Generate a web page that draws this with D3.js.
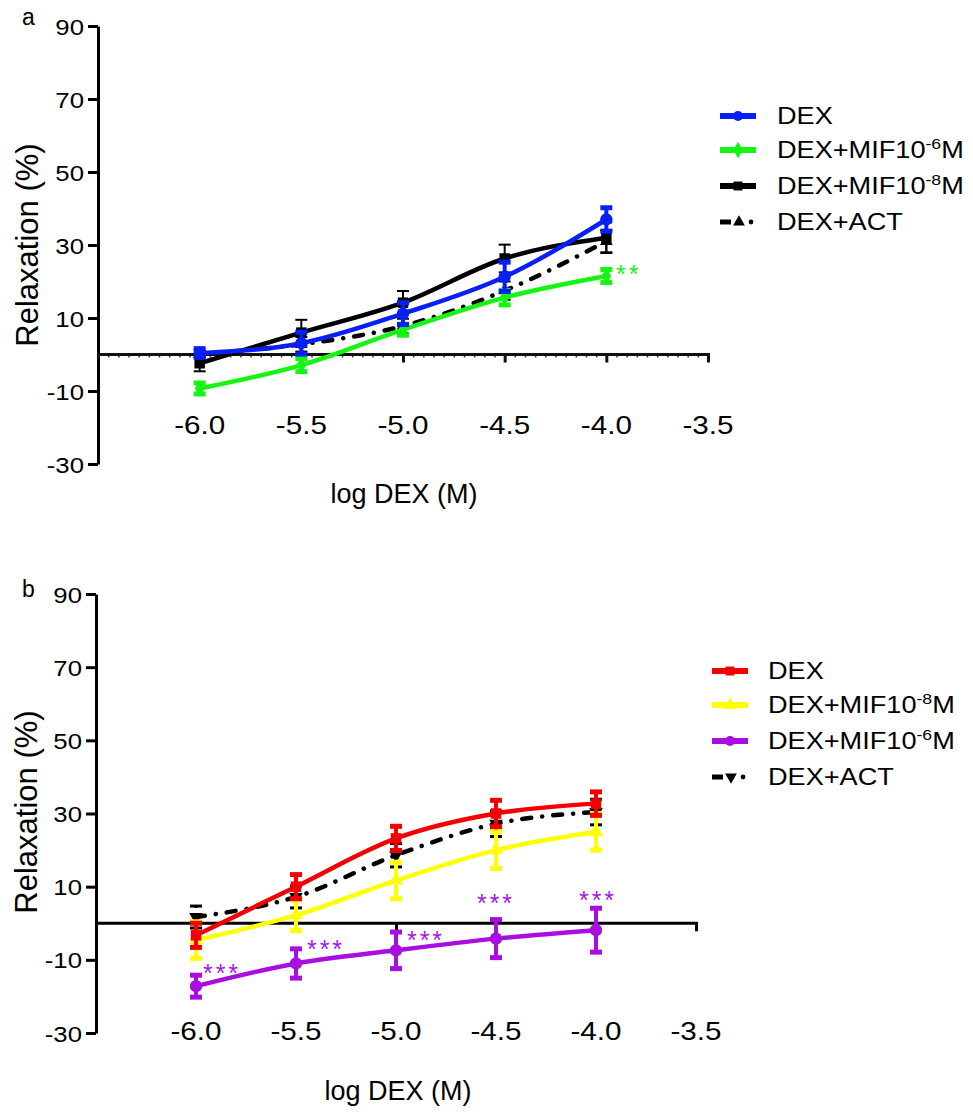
<!DOCTYPE html>
<html><head><meta charset="utf-8">
<script src="https://cdn.jsdelivr.net/npm/d3@7"></script>
<style>
body{margin:0;background:#fff}
text{font-family:"Liberation Sans",Arial,Helvetica,sans-serif;fill:#000}
</style>
</head><body>
<svg id="chart" width="973" height="1115"></svg>
<script>
// ---------- data ----------
const doses = [-6.0, -5.5, -5.0, -4.5, -4.0];
const xTickValues = [-6.0, -5.5, -5.0, -4.5, -4.0, -3.5];
const yTickValues = [90, 70, 50, 30, 10, -10, -30];

// panel a
const aDexMean  = [0.4, 3.1, 11.2, 21.3, 37.0];
const aDexSem   = [1.2, 3.0, 3.0, 4.0, 3.2];
const aMif6Mean = [-9.3, -2.9, 6.8, 15.6, 21.5];
const aMif6Sem  = [1.5, 1.8, 1.5, 2.0, 1.8];
const aMif8Mean = [-2.4, 6.0, 14.2, 26.3, 32.0];
const aMif8Sem  = [2.2, 3.5, 3.2, 3.8, 4.2];
const aActMean  = [0.2, 2.8, 7.8, 17.5, 31.0];
const aActSem   = [1.0, 2.0, 2.0, 2.5, 3.0];
const aLabels   = ["DEX", "DEX+MIF10|-6|M", "DEX+MIF10|-8|M", "DEX+ACT"];

// panel b
const bDexMean  = [-3.3, 10.0, 23.2, 30.0, 32.7];
const bDexSem   = [3.3, 3.3, 3.3, 3.6, 3.2];
const bMif8Mean = [-4.6, 2.2, 11.7, 20.0, 25.0];
const bMif8Sem  = [5.0, 4.2, 5.0, 5.0, 5.0];
const bMif6Mean = [-17.2, -11.0, -7.4, -4.2, -1.9];
const bMif6Sem  = [3.0, 4.0, 5.0, 5.2, 6.0];
const bActMean  = [1.7, 7.2, 18.6, 27.2, 30.4];
const bActSem   = [3.0, 3.0, 3.2, 3.5, 3.5];
const bLabels   = ["DEX", "DEX+MIF10|-8|M", "DEX+MIF10|-6|M", "DEX+ACT"];

// significance annotations (dose, value where the mark sits, text)
const aStarDose = [-3.89];
const aStarValue = [23.4];
const aStarText = ["**"];
const bStarDose = [-5.87, -5.35, -4.85, -4.5, -3.99];
const bStarValue = [-12.3, -5.6, -3.2, 6.8, 7.7];
const bStarText = ["***", "***", "***", "***", "***"];

// ---------- drawing ----------
const svg = d3.select("#chart");

function sText(g, x, y, str, size, sx, anchor, color) {
  return g.append("text")
    .attr("transform", `translate(${x},${y}) scale(${sx},1)`)
    .attr("text-anchor", anchor || "start")
    .style("font-size", size + "px")
    .style("fill", color || "#000")
    .text(str);
}

function symbolPath(type, size) {
  const map = {circle: d3.symbolCircle, square: d3.symbolSquare, triangle: d3.symbolTriangle,
               triangleDown: d3.symbolTriangle, diamond: d3.symbolDiamond};
  return d3.symbol().type(map[type]).size(size)();
}

function drawPanel(cfg) {
  const g = svg.append("g");
  const x = d3.scaleLinear().domain([-6.5, -3.5]).range(cfg.xRange);
  const y = d3.scaleLinear().domain([-30, 90]).range(cfg.yRange);

  // y axis
  const yAx = g.append("g").attr("transform", `translate(${cfg.xRange[0]},0)`)
    .call(d3.axisLeft(y).tickValues(yTickValues).tickSize(10).tickSizeOuter(0).tickFormat(""));
  yAx.selectAll("path,line").attr("stroke", "#000").attr("stroke-width", 3);
  yTickValues.forEach(v => sText(g, cfg.xRange[0] - 14, y(v) + 8.5, String(v), 23, 1.12, "end"));

  // x axis at zero
  if (cfg.minor) {
    const xm = g.append("g").attr("transform", `translate(0,${y(0)})`)
      .call(d3.axisBottom(x).tickValues(x.ticks(60)).tickSize(3).tickSizeOuter(0).tickFormat(""));
    xm.select("path").remove();
    xm.selectAll("line").attr("stroke", "#333").attr("stroke-width", 1.5);
  }
  const xAx = g.append("g").attr("transform", `translate(0,${y(0)})`)
    .call(d3.axisBottom(x).tickValues(xTickValues).tickSize(8).tickSizeOuter(0).tickFormat(""));
  xAx.select("path").attr("d", `M${cfg.xRange[0]},0H${cfg.xRange[1] + 2}`);
  xAx.selectAll("path,line").attr("stroke", cfg.minor ? "#111" : "#000").attr("stroke-width", 3);
  xTickValues.forEach(v => sText(g, x(v), cfg.xLabelY, v.toFixed(1), 26, 1.14, "middle"));

  // titles
  g.append("text").attr("transform", `translate(${cfg.yTitleX},${cfg.yTitleY}) rotate(-90)`)
    .attr("text-anchor", "middle").style("font-size", "31px").text("Relaxation (%)");
  g.append("text").attr("x", cfg.xTitleX).attr("y", cfg.xTitleY)
    .attr("text-anchor", "middle").style("font-size", "27px").text("log DEX (M)");
  g.append("text").attr("x", cfg.letterX).attr("y", cfg.letterY)
    .style("font-size", "23px").text(cfg.letter);

  // series
  const line = d3.line().x(d => x(d[0])).y(d => y(d[1])).curve(d3.curveMonotoneX);
  cfg.series.forEach(s => {
    const pts = doses.map((d, i) => [d, s.mean[i], s.sem[i]]);
    const sg = g.append("g");
    // error bars
    const eb = sg.selectAll("g.eb").data(pts).join("g");
    const ew = s.errWidth || 4;
    eb.append("line").attr("x1", d => x(d[0])).attr("x2", d => x(d[0]))
      .attr("y1", d => y(d[1] - d[2])).attr("y2", d => y(d[1] + d[2]))
      .attr("stroke", s.color).attr("stroke-width", ew)
      .attr("stroke-dasharray", s.errDash || null);
    [-1, 1].forEach(sgn => {
      eb.append("line").attr("x1", d => x(d[0]) - 6).attr("x2", d => x(d[0]) + 6)
        .attr("y1", d => y(d[1] + sgn * d[2])).attr("y2", d => y(d[1] + sgn * d[2]))
        .attr("stroke", s.color).attr("stroke-width", s.capWidth || 5);
    });
    // curve
    sg.append("path").attr("d", line(pts)).attr("fill", "none")
      .attr("stroke", s.color).attr("stroke-width", 4.5)
      .attr("stroke-linecap", s.dash ? "round" : "butt")
      .attr("stroke-dasharray", s.dash || null);
    // markers
    sg.selectAll("path.m").data(pts).join("path").attr("class", "m")
      .attr("d", symbolPath(s.symbol, s.symSize || 100))
      .attr("transform", d => `translate(${x(d[0])},${y(d[1])})${s.symbol === "triangleDown" ? " rotate(180)" : ""}`)
      .attr("fill", s.color);
  });

  // stars
  cfg.stars.dose.forEach((d, i) => {
    sText(g, x(d), y(cfg.stars.value[i]) + 14, cfg.stars.text[i], 25, 1.0, "middle", cfg.stars.color)
      .style("letter-spacing", "3px");
  });

  // legend
  const lg = g.append("g");
  cfg.series.slice().sort((a, b) => a.legendIndex - b.legendIndex).forEach((s, i) => {
    const cy = cfg.legendRows[i];
    const lx = cfg.legendX;
    if (s.dash) {
      lg.append("line").attr("x1", lx).attr("x2", lx + 11).attr("y1", cy).attr("y2", cy)
        .attr("stroke", s.color).attr("stroke-width", 5);
      lg.append("path").attr("d", symbolPath(s.symbol, 60))
        .attr("transform", `translate(${lx + 19},${cy})${s.symbol === "triangleDown" ? " rotate(180)" : ""}`)
        .attr("fill", s.color);
      lg.append("circle").attr("cx", lx + 31).attr("cy", cy).attr("r", 2.4).attr("fill", s.color);
    } else {
      lg.append("line").attr("x1", lx).attr("x2", lx + 36).attr("y1", cy).attr("y2", cy)
        .attr("stroke", s.color).attr("stroke-width", 6);
      lg.append("path").attr("d", symbolPath(s.symbol, 80))
        .attr("transform", `translate(${lx + 18},${cy})`).attr("fill", s.color);
    }
    const parts = s.label.split("|");
    const t = lg.append("text")
      .attr("transform", `translate(${cfg.legendTextX},${cy + 8}) scale(1.18,1)`)
      .style("font-size", "23px");
    t.append("tspan").text(parts[0]);
    if (parts.length > 1) {
      t.append("tspan").attr("dy", -9).style("font-size", "15px").text(parts[1]);
      t.append("tspan").attr("dy", 9).text(parts[2]);
    }
  });
}

drawPanel({
  letter: "a", letterX: 22, letterY: 25,
  xRange: [98, 708], yRange: [464, 26], minor: true,
  xLabelY: 434, yTitleX: 38, yTitleY: 245, xTitleX: 404, xTitleY: 503,
  legendX: 720, legendTextX: 777, legendRows: [116, 150, 186, 222],
  stars: {dose: aStarDose, value: aStarValue, text: aStarText, color: "#1ef01e"},
  series: [
    {mean: aActMean, sem: aActSem, color: "#000", symbol: "triangle", symSize: 70, dash: "9,11,0.1,11", errWidth: 2, capWidth: 2, label: aLabels[3], legendIndex: 3},
    {mean: aMif8Mean, sem: aMif8Sem, color: "#000", symbol: "square", symSize: 110, errWidth: 2, capWidth: 2, label: aLabels[2], legendIndex: 2},
    {mean: aMif6Mean, sem: aMif6Sem, color: "#14f514", symbol: "diamond", symSize: 80, label: aLabels[1], legendIndex: 1},
    {mean: aDexMean, sem: aDexSem, color: "#0820f5", symbol: "circle", symSize: 120, label: aLabels[0], legendIndex: 0}
  ]
});

drawPanel({
  letter: "b", letterX: 22, letterY: 597,
  xRange: [96, 696], yRange: [1033, 594], minor: false,
  xLabelY: 1040, yTitleX: 37, yTitleY: 812, xTitleX: 398, xTitleY: 1100,
  legendX: 712, legendTextX: 768, legendRows: [671, 705, 741, 777],
  stars: {dose: bStarDose, value: bStarValue, text: bStarText, color: "#a818e0"},
  series: [
    {mean: bActMean, sem: bActSem, color: "#000", symbol: "triangleDown", symSize: 80, dash: "9,11,0.1,11", errWidth: 3, capWidth: 3, errDash: "5,5", label: bLabels[3], legendIndex: 3},
    {mean: bMif6Mean, sem: bMif6Sem, color: "#a80ee0", symbol: "circle", symSize: 120, label: bLabels[2], legendIndex: 2},
    {mean: bMif8Mean, sem: bMif8Sem, color: "#ffff00", symbol: "triangle", symSize: 90, label: bLabels[1], legendIndex: 1},
    {mean: bDexMean, sem: bDexSem, color: "#f50000", symbol: "square", symSize: 110, label: bLabels[0], legendIndex: 0}
  ]
});
</script>
</body></html>
